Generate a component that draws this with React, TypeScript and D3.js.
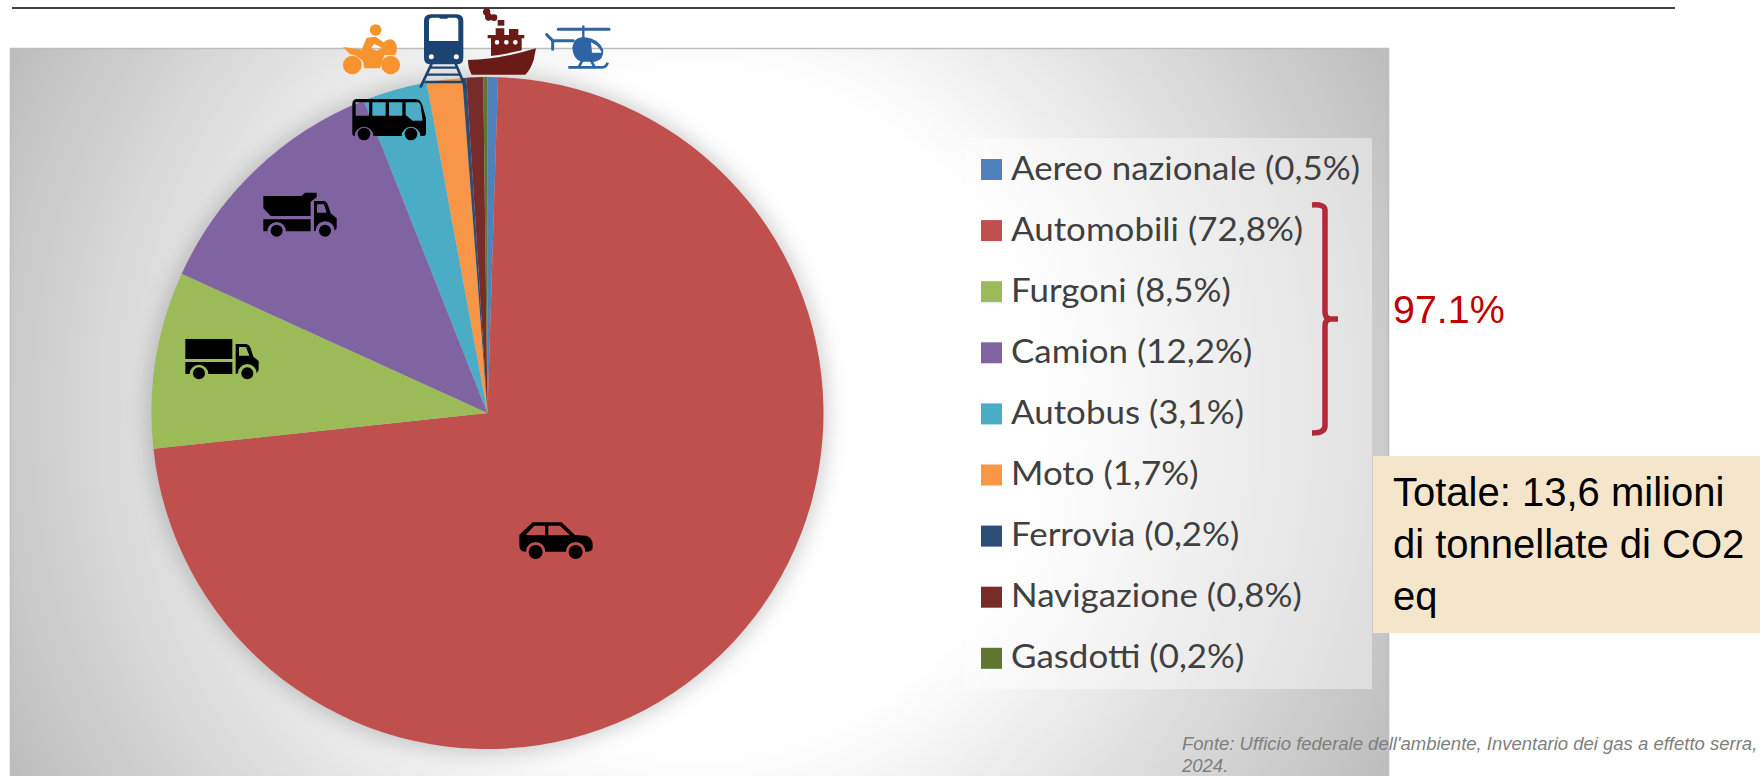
import React from "react";
import * as d3 from "d3";

const categories = ["Aereo nazionale", "Automobili", "Furgoni", "Camion", "Autobus", "Moto", "Ferrovia", "Navigazione", "Gasdotti"];
const shareValues = [0.5, 72.8, 8.5, 12.2, 3.1, 1.7, 0.2, 0.8, 0.2];
const shareLabels = ["0,5%", "72,8%", "8,5%", "12,2%", "3,1%", "1,7%", "0,2%", "0,8%", "0,2%"];
const sliceColors = ["#4F81BD", "#C0504D", "#9BBB59", "#8064A2", "#4BACC6", "#F79646", "#2C4D75", "#772C2A", "#5F7530"];
const totalLines = ["Totale: 13,6 milioni", "di tonnellate di CO2", "eq"];
const sourceLines = ["Fonte: Ufficio federale dell'ambiente, Inventario dei gas a effetto serra,", "2024."];
const bracketLabel = "97.1%";

const W = 1760, H = 776;
const cx = 487.5, cy = 413, R = 336;
const LEG_X = 981, LEG_Y = 159, LEG_STEP = 61.1, SW = 21;

const legendY = d3.scaleLinear().domain([0, 1]).range([LEG_Y, LEG_Y + LEG_STEP]);
const arcGen = d3.arc<d3.PieArcDatum<number>>().innerRadius(0).outerRadius(R);
const pieGen = d3.pie<number>().sort(null).value((d) => d);

const Car = () => (
  <g transform="translate(480,490) scale(0.3333)">
    <path fillRule="evenodd" fill="#000" d="M118 135 L158 97 L245 97 L285 135 L318 137 Q338 142 338 165 L338 172 Q338 185 322 185 L316 185 A29 29 0 0 0 258 185 L196 185 A29 29 0 0 0 138 185 L135 185 Q118 185 118 165 Z M137 135 L163 107 L195 107 L195 136 Z M205 107 L240 107 L270 136 L205 136 Z" />
    <circle cx={167} cy={186} r={21} fill="#000" />
    <circle cx={287} cy={186} r={21} fill="#000" />
  </g>
);

const Van = () => (
  <g transform="translate(160,160) scale(0.3333)">
    <rect x={76} y={537} width={141} height={60} fill="#000" />
    <path fill="#000" d="M76 606 L217 606 L217 642 L145 642 A28 28 0 0 0 89 642 L76 642 Z" />
    <path fill="#000" fillRule="evenodd" d="M227 552 L255 552 Q268 552 272 565 L280 590 L296 603 L296 630 L290 640 A28 28 0 0 0 234 640 L227 642 Z M237 561 L258 561 L268 587 L237 587 Z" />
    <circle cx={117} cy={640} r={18} fill="#000" />
    <circle cx={262} cy={640} r={18} fill="#000" />
  </g>
);

const Dump = () => (
  <g transform="translate(160,160) scale(0.3333)">
    <path fill="#000" d="M310 108 L425 108 L435 98 L470 98 L470 112 L452 125 L452 168 L332 168 L310 145 Z" />
    <path fill="#000" d="M310 178 L452 178 L452 214 L378 214 A28 28 0 0 0 322 214 L310 214 Z" />
    <path fill="#000" fillRule="evenodd" d="M462 123 L490 123 Q500 123 505 138 L512 160 L530 175 L530 205 L524 212 A28 28 0 0 0 467 212 L462 214 Z M471 133 L492 133 L500 158 L471 158 Z" />
    <circle cx={350} cy={212} r={18} fill="#000" />
    <circle cx={495} cy={212} r={18} fill="#000" />
  </g>
);

const Bus = () => (
  <g transform="translate(300,0) scale(0.3333)">
    <path fill="#000" fillRule="evenodd" d="M172 297 L345 297 Q362 297 367 315 L378 355 L378 400 Q378 408 370 408 L361 408 A28 28 0 0 0 305 408 L220 408 A28 28 0 0 0 164 408 Q157 408 157 400 L157 312 Q157 297 172 297 Z M167 307 L207 307 L207 347 L167 347 Z M217 307 L257 307 L257 347 L217 347 Z M267 307 L307 307 L307 347 L267 347 Z M317 307 L352 307 Q360 307 362 318 L368 362 L338 362 L317 345 Z" />
    <circle cx={192} cy={402} r={19} fill="#000" />
    <circle cx={333} cy={402} r={19} fill="#000" />
  </g>
);

const Moto = () => (
  <g transform="translate(335,5) scale(0.3333)" fill="#F7942E">
    <circle cx={122} cy={75} r={17.5} />
    <circle cx={52} cy={180} r={28} />
    <circle cx={167} cy={180} r={28} />
    <path fillRule="evenodd" d="M24 126 L80 134 L95 98 L122 95 L146 112 Q165 95 180 110 Q192 130 180 150 L148 150 L135 190 L88 190 L84 168 Q65 150 45 147 Z M108 130 L118 116 L142 130 L124 137 Z" />
  </g>
);

const Train = () => (
  <g transform="translate(335,5) scale(0.3333)">
    <path fill="#1B4472" fillRule="evenodd" d="M288 28 L365 28 Q385 28 385 48 L385 158 Q385 178 365 178 L288 178 Q267 178 267 158 L267 48 Q267 28 288 28 Z M292 38 L312 38 L316 41 L336 41 L340 38 L360 38 Q370 38 370 48 L370 108 L282 108 L282 48 Q282 38 292 38 Z" />
    <circle cx={289} cy={155} r={7.5} fill="#fff" />
    <circle cx={364} cy={155} r={7.5} fill="#fff" />
    <g stroke="#1B4472" fill="none">
      <path strokeWidth={8} d="M290 176 L256 248 M362 176 L392 248" />
      <path strokeWidth={7} d="M284 188 L368 188 M276 209 L376 209 M268 231 L384 231" />
    </g>
  </g>
);

const Ship = () => (
  <g transform="translate(465,5) scale(0.3333)" fill="#6A1B17">
    <path d="M9 165 Q110 162 213 130 L206 165 Q196 195 181 209 L20 209 Q9 190 9 165 Z" />
    <path fillRule="evenodd" d="M78 100 L68 100 L68 90 L92 90 L92 70 L118 70 L118 90 L132 90 L132 72 L160 72 L160 90 L178 90 L178 100 L170 100 L170 136 Q120 148 78 153 Z M103 112 A7 7 0 1 0 89 112 A7 7 0 1 0 103 112 Z M131 112 A7 7 0 1 0 117 112 A7 7 0 1 0 131 112 Z M158 112 A7 7 0 1 0 144 112 A7 7 0 1 0 158 112 Z" />
    <rect x={98} y={45} width={20} height={17} />
    <circle cx={65} cy={21} r={11} />
    <circle cx={71} cy={36} r={11} />
    <circle cx={87} cy={38} r={10} />
  </g>
);

const Heli = () => (
  <g transform="translate(465,5) scale(0.3333)">
    <path fill="#2E63A4" fillRule="evenodd" d="M322 128 Q325 100 350 97 L360 97 Q400 100 415 135 Q417 165 390 170 L350 170 Q325 165 322 128 Z M378 112 Q403 122 410 143 L381 143 Z" />
    <g stroke="#2E63A4" fill="none" strokeLinecap="round">
      <path strokeWidth={9} d="M280 73 L432 73" />
      <path strokeWidth={7} d="M355 64 L355 100" />
      <path strokeWidth={9} d="M262 107 L325 107 M263 107 L263 133 M245 89 L263 107" />
      <path strokeWidth={8} strokeLinecap="butt" d="M310 187 L412 187 Q424 187 428 173 M352 166 L341 187 M378 166 L389 187" />
    </g>
  </g>
);

export default function App() {
  const arcs = pieGen(shareValues);
  return (
    <svg width={W} height={H} viewBox={`0 0 ${W} ${H}`} style={{ position: "fixed", left: 0, top: 0, display: "block" }}>
      <defs>
        <radialGradient id="bg" gradientUnits="userSpaceOnUse" cx={699} cy={412} r={790}>
          <stop offset="0.43" stopColor="#ffffff" />
          <stop offset="1" stopColor="#bbbbbb" />
        </radialGradient>
        <filter id="soft" x="-15%" y="-15%" width="130%" height="130%">
          <feGaussianBlur stdDeviation="11" />
        </filter>
        <clipPath id="plotClip"><rect x={10} y={48} width={1379} height={728} /></clipPath>
      </defs>

      <rect x={0} y={0} width={W} height={H} fill="#fff" />
      <line x1={12} x2={1675} y1={8} y2={8} stroke="#000" strokeWidth={1.5} />

      <rect x={10} y={48} width={1379} height={728} fill="url(#bg)" />
      <path d="M10.5 776 L10.5 48.5 L1388.5 48.5 L1388.5 776" fill="none" stroke="#bdbdbd" strokeWidth={1.5} />

      <g clipPath="url(#plotClip)">
        <circle cx={cx} cy={cy} r={R + 3} fill="#000" opacity={0.2} filter="url(#soft)" />
      </g>

      <g transform={`translate(${cx},${cy})`}>
        {arcs.map((a, i) => (
          <path key={categories[i]} d={arcGen(a) ?? ""} fill={sliceColors[i]} />
        ))}
      </g>

      <Car />
      <Van />
      <Dump />
      <Bus />
      <Moto />
      <Train />
      <Ship />
      <Heli />

      <rect x={965} y={138} width={407} height={551} fill="#fff" opacity={0.42} />
      {categories.map((c, i) => (
        <g key={c}>
          <rect x={LEG_X} y={legendY(i)} width={SW} height={SW} fill={sliceColors[i]} />
          <text transform={`translate(${LEG_X + 30},${legendY(i) + 20.5}) scale(1.058,1)`} fontFamily="Lato, Carlito, sans-serif" fontSize={33} fill="#404040">
            {`${c} (${shareLabels[i]})`}
          </text>
        </g>
      ))}

      <path d="M1312 205 Q1325 204 1325 210 L1325 312 Q1325 319 1331 319 L1338 319 M1331 319 Q1325 319 1325 326 L1325 426 Q1325 433 1312 433" fill="none" stroke="#B22A38" strokeWidth={5.5} />
      <text x={1393} y={323} fontFamily="'Liberation Sans', Arial, sans-serif" fontSize={39.4} fill="#C00000">{bracketLabel}</text>

      <rect x={1373} y={456} width={387} height={177} fill="#F5E6CB" />
      {totalLines.map((t, i) => (
        <text key={t} x={1393} y={506 + i * 52} fontFamily="'Liberation Sans', Arial, sans-serif" fontSize={40} fill="#000">{t}</text>
      ))}
      {sourceLines.map((t, i) => (
        <text key={t} x={1182} y={750 + i * 22} fontFamily="'Liberation Sans', Arial, sans-serif" fontStyle="italic" fontSize={18.5} fill="#7f7f7f">{t}</text>
      ))}
    </svg>
  );
}
